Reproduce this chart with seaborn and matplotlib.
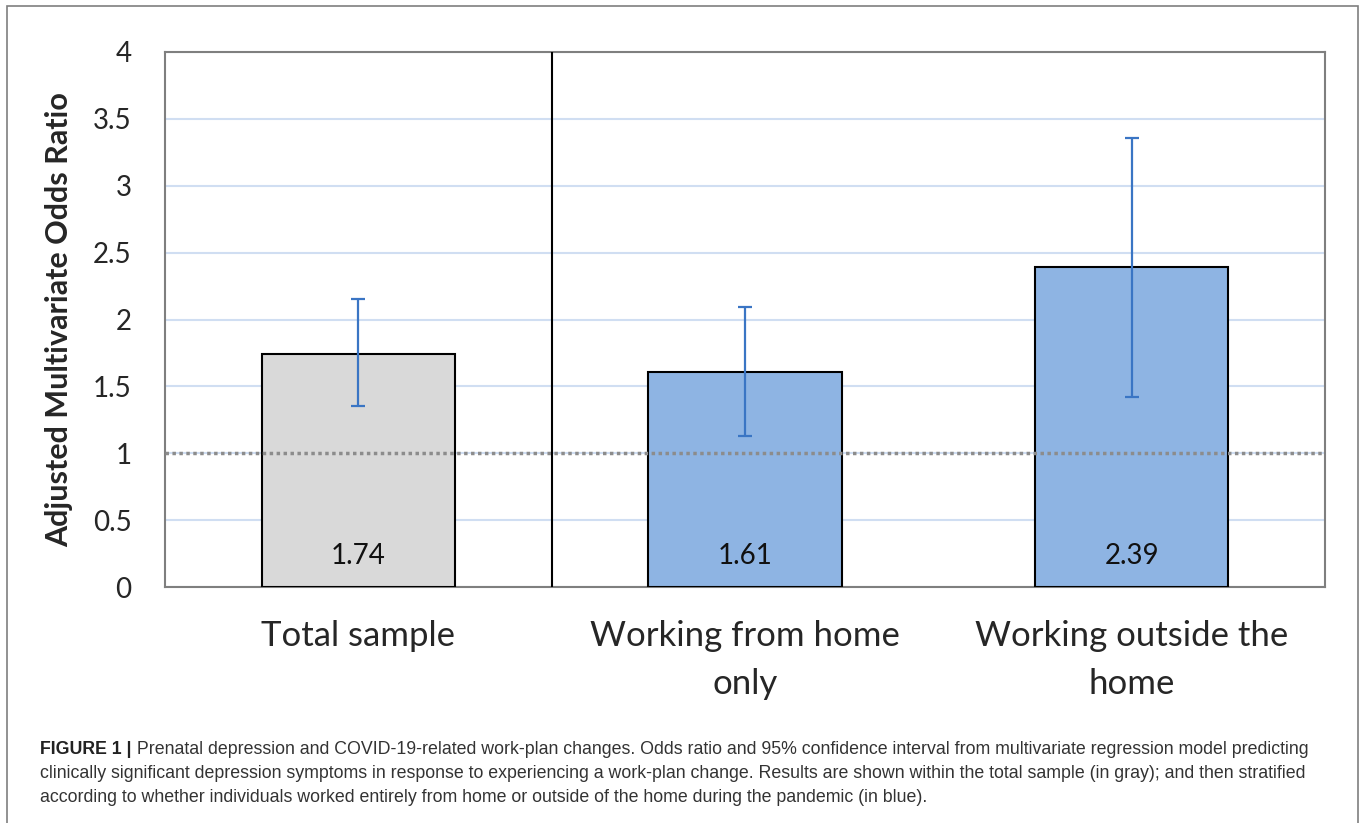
import numpy as np
import pandas as pd
import seaborn as sns
import matplotlib.pyplot as plt
from matplotlib.patches import Rectangle

groups = ["Total sample", "Working from home\nonly", "Working outside the\nhome"]
odds_ratio = [1.74, 1.61, 2.39]
ci_low = [1.35, 1.13, 1.42]
ci_high = [2.15, 2.09, 3.36]
bar_colors = ["#d9d9d9", "#8eb4e3", "#8eb4e3"]
y_ticks = [0, 0.5, 1, 1.5, 2, 2.5, 3, 3.5, 4]
y_tick_labels = ["0", "0.5", "1", "1.5", "2", "2.5", "3", "3.5", "4"]

caption_bold = "FIGURE 1 |"
caption_lines = [
    " Prenatal depression and COVID-19-related work-plan changes. Odds ratio and 95% confidence interval from multivariate regression model predicting",
    "clinically significant depression symptoms in response to experiencing a work-plan change. Results are shown within the total sample (in gray); and then stratified",
    "according to whether individuals worked entirely from home or outside of the home during the pandemic (in blue).",
]

df = pd.DataFrame({"group": groups, "odds_ratio": odds_ratio, "lo": ci_low, "hi": ci_high})

sns.set_style("white")
plt.rcParams["font.family"] = ["Lato", "DejaVu Sans"]

fig = plt.figure(figsize=(13.63, 8.23), dpi=100)
W, H = 1363, 823
ax = fig.add_axes([165 / W, 1 - 587 / H, (1325 - 165) / W, (587 - 52) / H])

sns.barplot(data=df, x="group", y="odds_ratio", hue="group", palette=bar_colors,
            saturation=1, legend=False, width=0.5, edgecolor="black", linewidth=1.5,
            ax=ax, zorder=3)

x = np.arange(len(groups))
ax.errorbar(x, df["odds_ratio"],
            yerr=[df["odds_ratio"] - df["lo"], df["hi"] - df["odds_ratio"]],
            fmt="none", ecolor="#3a75c4", elinewidth=1.6, capsize=5, capthick=1.6, zorder=4)

for xi, v in zip(x, odds_ratio):
    ax.text(xi, 0.23, f"{v:.2f}", ha="center", va="center", fontsize=20, color="#111111", zorder=5)

ax.axhline(1, color="#8c8c8c", linestyle=(0, (1, 1)), linewidth=2.5, zorder=4)
ax.axvline(0.5, color="black", linewidth=1.5, zorder=4)

ax.set_xlim(-0.5, 2.5)
ax.set_ylim(0, 4)
ax.set_yticks(y_ticks)
ax.set_yticklabels(y_tick_labels, fontsize=20)
ax.yaxis.grid(True, color="#d0def2", linewidth=1.5, zorder=0)
ax.set_axisbelow(True)
ax.tick_params(axis="y", length=0, pad=24)
ax.tick_params(axis="x", length=0, pad=24, labelsize=25)
for lab in ax.get_xticklabels():
    lab.set_linespacing(1.6)
ax.set_xlabel("")
ax.set_ylabel("Adjusted Multivariate Odds Ratio", fontsize=22, fontweight="bold", labelpad=14)
for s in ax.spines.values():
    s.set_color("#7f7f7f")
    s.set_linewidth(1.5)

# outer frame
fig.add_artist(Rectangle((7 / W, -0.05), (1358 - 7) / W, 1.05 - 6 / H, transform=fig.transFigure,
                         fill=False, edgecolor="#7f7f7f", linewidth=1.2))

cap_font = ["Liberation Sans Narrow", "Liberation Sans", "DejaVu Sans"]
t = fig.text(40 / W, 1 - 749 / H, caption_bold, fontsize=12.8, fontweight="bold",
             family=cap_font, color="#222222", va="center")
fig.canvas.draw()
bb = t.get_window_extent(fig.canvas.get_renderer())
fig.text(bb.x1 / W, 1 - 749 / H, caption_lines[0], fontsize=12.8, family=cap_font,
         color="#333333", va="center")
for i, line in enumerate(caption_lines[1:]):
    fig.text(40 / W, 1 - (773 + 24 * i) / H, line, fontsize=12.8, family=cap_font,
             color="#333333", va="center")

fig.savefig("out.png", dpi=100)
